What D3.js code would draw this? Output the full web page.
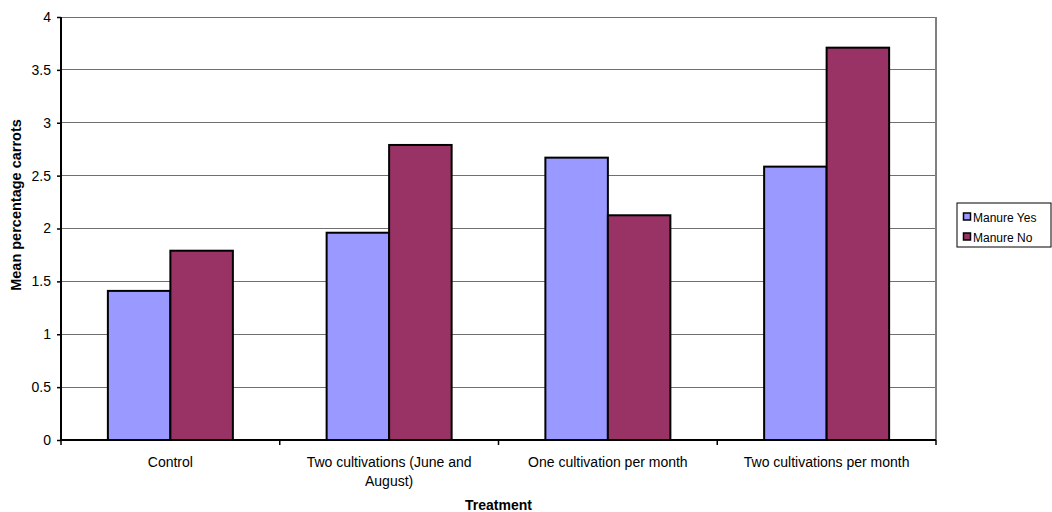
<!DOCTYPE html>
<html>
<head>
<meta charset="utf-8">
<script src="https://cdn.jsdelivr.net/npm/d3@7"></script>
<style>
  body { margin: 0; background: #fff; }
  svg { display: block; font-family: "Liberation Sans", Arial, sans-serif; }
</style>
</head>
<body>
<svg id="chart" width="1052" height="512"></svg>
<script>
// Treatments along the x axis
const categories = [
  "Control",
  "Two cultivations (June and August)",
  "One cultivation per month",
  "Two cultivations per month"
];
const seriesNames = ["Manure Yes", "Manure No"];
const manureYes = [1.41, 1.96, 2.67, 2.585];
const manureNo = [1.79, 2.79, 2.125, 3.71];
const yTicks = [0, 0.5, 1, 1.5, 2, 2.5, 3, 3.5, 4];
const colors = ["#9999ff", "#993366"];

const svg = d3.select("#chart");
const plot = { left: 61, right: 936, top: 17, bottom: 440 };
const axisFont = 14;

const x0 = d3.scaleBand().domain(categories).range([plot.left, plot.right]).paddingInner(0).paddingOuter(0);
// Excel-style gap width of 150%: each group takes 2 bars out of 3.5 bar widths
const groupFrac = 2 / 3.5;
const x1 = d3.scaleBand().domain(seriesNames)
  .range([0, x0.bandwidth() * groupFrac]);
const y = d3.scaleLinear().domain([0, 4]).range([plot.bottom, plot.top]);

// Gridlines
svg.append("g").selectAll("line").data(yTicks.filter(t => t > 0)).join("line")
  .attr("x1", plot.left).attr("x2", plot.right)
  .attr("y1", d => y(d)).attr("y2", d => y(d))
  .attr("stroke", "#707070").attr("stroke-width", 1)
  .attr("shape-rendering", "crispEdges");

// Plot area border (right side)
svg.append("line")
  .attr("x1", plot.right).attr("x2", plot.right)
  .attr("y1", plot.top).attr("y2", plot.bottom)
  .attr("stroke", "#808080").attr("stroke-width", 2);

// Bars
const rows = categories.map((c, i) => ({ c, vals: [manureYes[i], manureNo[i]] }));
const groups = svg.append("g").selectAll("g").data(rows).join("g")
  .attr("transform", d => `translate(${x0(d.c) + x0.bandwidth() * (1 - groupFrac) / 2},0)`);
groups.selectAll("rect").data(d => d.vals.map((v, k) => ({ v, k }))).join("rect")
  .attr("x", d => x1(seriesNames[d.k]))
  .attr("width", x1.bandwidth())
  .attr("y", d => y(d.v))
  .attr("height", d => y(0) - y(d.v))
  .attr("fill", d => colors[d.k])
  .attr("stroke", "#000").attr("stroke-width", 2);

// Y axis
const yAxis = d3.axisLeft(y).tickValues(yTicks).tickSize(4).tickPadding(6)
  .tickFormat(d => String(d));
const gy = svg.append("g").attr("transform", `translate(${plot.left},0)`).call(yAxis);
gy.select(".domain").attr("stroke", "#000").attr("stroke-width", 2).attr("d", `M0,${plot.top}V${plot.bottom}`);
gy.selectAll(".tick line").attr("stroke", "#000").attr("stroke-width", 1.5);
gy.selectAll(".tick text").attr("font-size", axisFont).attr("fill", "#000")
  .attr("font-family", "Liberation Sans, Arial, sans-serif");

// X axis: ticks at category boundaries
const gx = svg.append("g").attr("transform", `translate(0,${plot.bottom})`);
gx.append("line").attr("x1", plot.left).attr("x2", plot.right)
  .attr("stroke", "#000").attr("stroke-width", 2);
const bounds = categories.map(c => x0(c)).concat([plot.right]);
gx.selectAll("line.tk").data(bounds).join("line").attr("class", "tk")
  .attr("x1", d => d).attr("x2", d => d).attr("y1", 0).attr("y2", 5)
  .attr("stroke", "#000").attr("stroke-width", 1.5);

// Category labels, wrapped to fit
const labelLines = [
  ["Control"],
  ["Two cultivations (June and", "August)"],
  ["One cultivation per month"],
  ["Two cultivations per month"]
];
gx.selectAll("text.cat").data(categories).join("text").attr("class", "cat")
  .attr("x", d => x0(d) + x0.bandwidth() / 2)
  .attr("y", 27)
  .attr("text-anchor", "middle").attr("font-size", axisFont).attr("fill", "#000")
  .each(function (d, i) {
    d3.select(this).selectAll("tspan").data(labelLines[i]).join("tspan")
      .attr("x", x0(d) + x0.bandwidth() / 2)
      .attr("dy", (t, j) => j === 0 ? 0 : 19)
      .text(t => t);
  });

// Axis titles
svg.append("text")
  .attr("x", (plot.left + plot.right) / 2).attr("y", 510)
  .attr("text-anchor", "middle").attr("font-size", axisFont).attr("font-weight", "bold")
  .text("Treatment");
svg.append("text")
  .attr("transform", "translate(21,205) rotate(-90)")
  .attr("text-anchor", "middle").attr("font-size", 14.5).attr("font-weight", "bold")
  .text("Mean percentage carrots");

// Legend
const legend = svg.append("g").attr("transform", "translate(957,203)");
legend.append("rect").attr("x", 0).attr("y", 0).attr("width", 94).attr("height", 44)
  .attr("fill", "#fff").attr("stroke", "#000").attr("stroke-width", 1);
const items = legend.selectAll("g").data(seriesNames).join("g")
  .attr("transform", (d, i) => `translate(6,${14 + i * 20})`);
items.append("rect").attr("x", 0.5).attr("y", -4).attr("width", 7).attr("height", 7)
  .attr("fill", (d, i) => colors[i]).attr("stroke", "#000").attr("stroke-width", 1.5);
items.append("text").attr("x", 10).attr("y", 4.5).attr("font-size", 12).text(d => d);
</script>
</body>
</html>
